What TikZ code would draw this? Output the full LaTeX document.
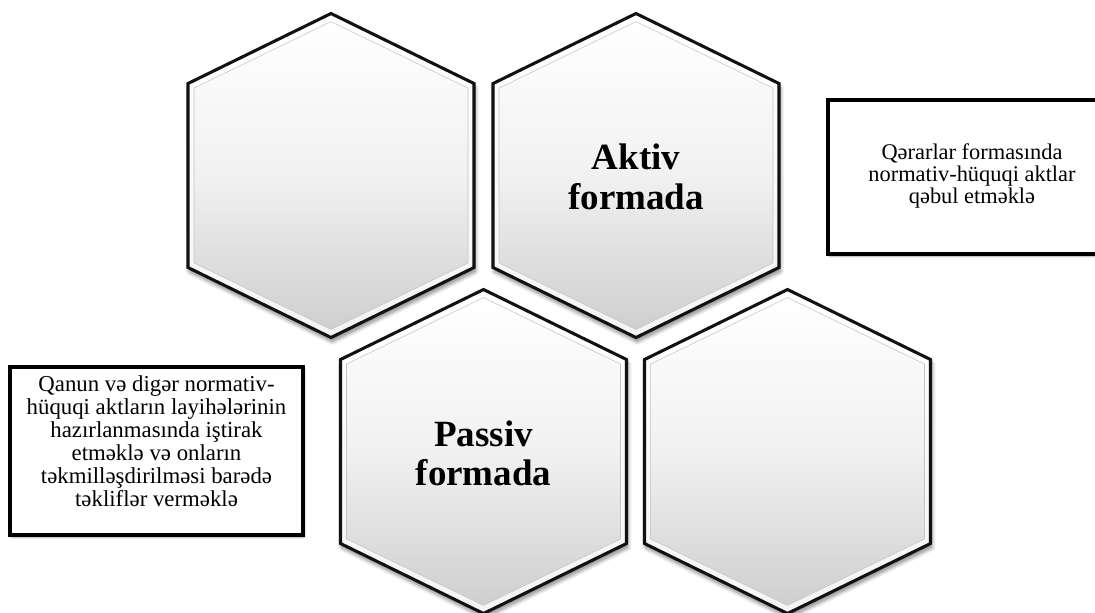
\documentclass[tikz,border=0pt]{standalone}
\usepackage{fontspec}
\setmainfont{Liberation Serif}
\usetikzlibrary{shadows.blur, positioning}
\definecolor{facetop}{HTML}{FFFFFF}
\definecolor{facemid}{HTML}{F1F1F1}
\definecolor{facebottom}{HTML}{CFCFCF}
\definecolor{bevelgray}{HTML}{C4C4C4}
\definecolor{rimbottom}{HTML}{F4F4F4}
\definecolor{edgeblack}{HTML}{111111}

\tikzset{
  hexrim/.style={top color=white, bottom color=rimbottom,
    blur shadow={shadow xshift=1pt, shadow yshift=-3pt, shadow blur steps=8, shadow blur radius=3pt, shadow opacity=50}},
  hexface/.style={top color=facetop, bottom color=facebottom, middle color=facemid,
    draw=bevelgray, line width=0.4pt},
  hexedge/.style={draw=edgeblack, line width=2.3pt, line join=miter},
  hextext/.style={font=\fontsize{27.75}{29.5}\selectfont\bfseries, align=center},
  noteframe/.style={draw=black, line width=3pt, fill=white,
    blur shadow={shadow xshift=1pt, shadow yshift=-1.5pt, shadow blur steps=4, shadow opacity=35}},
  notetext/.style={align=center, inner sep=0pt}
}

\begin{document}
\begin{tikzpicture}[x=0.75pt, y=-0.75pt]
  \useasboundingbox (0,0) rectangle (1095,612);

  % Honeycomb of four cells (top row, then shifted bottom row)
  \foreach \cx/\cy in {331/175.5, 636/175.5, 483.5/451.5, 787.5/451.5} {
    \begin{scope}[shift={(\cx,\cy)}]
      \path[hexrim] (0,-162) -- (143,-92) -- (143,92) -- (0,162) -- (-143,92) -- (-143,-92) -- cycle;
      \path[hexface, xscale=0.958, yscale=0.95] (0,-162) -- (143,-92) -- (143,92) -- (0,162) -- (-143,92) -- (-143,-92) -- cycle;
      \draw[hexedge] (0,-162) -- (143,-92) -- (143,92) -- (0,162) -- (-143,92) -- (-143,-92) -- cycle;
    \end{scope}
  }

  % Cell labels
  \node[hextext] (aktiv) at (636,177) {Aktiv\\formada};
  \node[hextext] (passiv) at (483.5,453) {Passiv\\formada};

  % Side notes
  \draw[noteframe] (828,100) rectangle (1116,254);
  \node[notetext, font=\fontsize{16.8}{16.6}\selectfont] (qerar) at (972,176)
    {Qərarlar formasında\\normativ-hüquqi aktlar\\qəbul etməklə};
  \draw[noteframe] (10,367) rectangle (303,535);
  \node[notetext, font=\fontsize{17.1}{17.3}\selectfont] (qanun) at (156.5,441)
    {Qanun və digər normativ-\\hüquqi aktların layihələrinin\\hazırlanmasında iştirak\\etməklə və onların\\təkmilləşdirilməsi barədə\\təkliflər verməklə};
\end{tikzpicture}
\end{document}
